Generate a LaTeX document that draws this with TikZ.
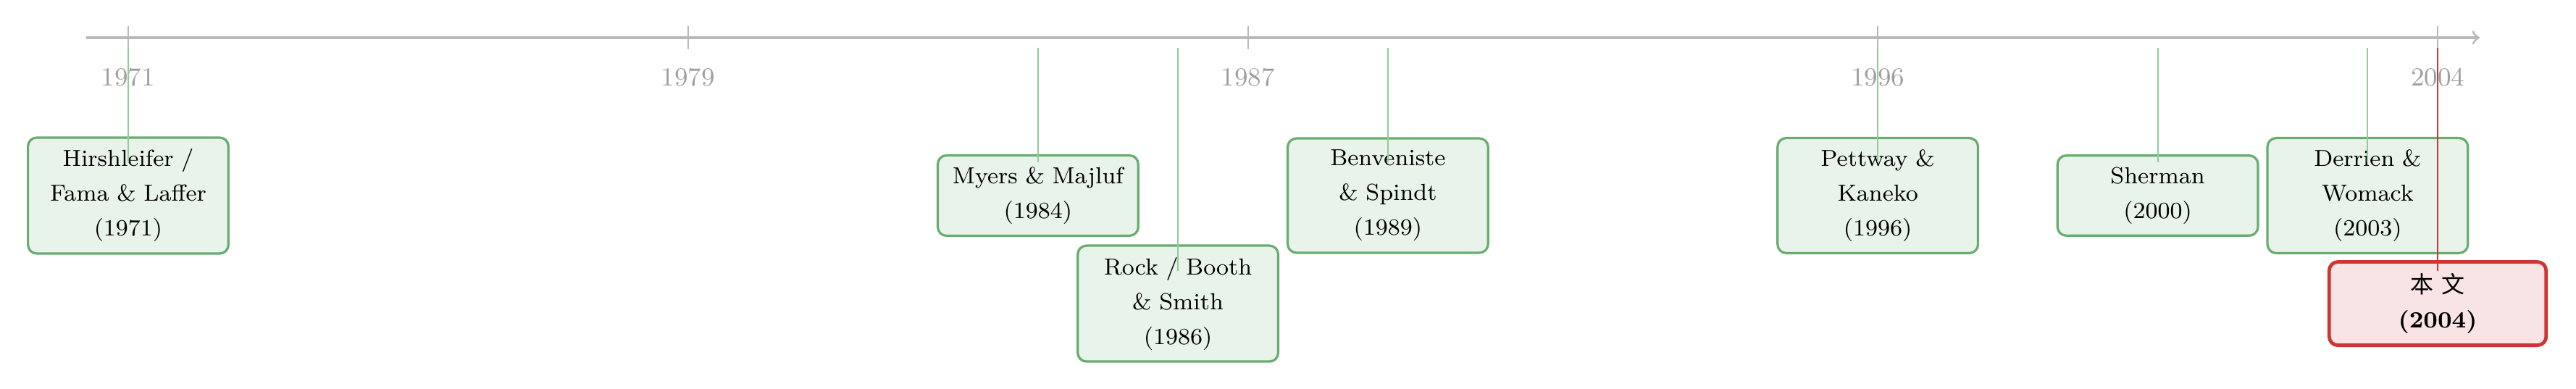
\documentclass[tikz,border=0pt]{standalone}
\usepackage{fontspec}
\newfontfamily\cjk{Noto Sans CJK SC}
\usetikzlibrary{positioning, calc}

\definecolor{axisgray}{RGB}{185,185,185}
\definecolor{labelgray}{RGB}{158,158,158}
\definecolor{paperline}{RGB}{104,172,112}
\definecolor{paperfill}{RGB}{232,243,234}
\definecolor{linkgreen}{RGB}{145,202,155}
\definecolor{oursline}{RGB}{208,52,52}
\definecolor{oursfill}{RGB}{249,228,229}

\begin{document}
\begin{tikzpicture}[x=0.8488cm]
    \tikzstyle{paper} = [draw=paperline, fill=paperfill, line width=0.8pt, rounded corners=3pt, text width=2.15cm, align=center, inner sep=4pt, font=\fontsize{8}{12}\selectfont]
    \tikzstyle{ours} = [paper, draw=oursline, fill=oursfill, line width=1.2pt, text width=2.35cm, font=\fontsize{8}{12}\selectfont\bfseries]
    \tikzstyle{yearlabel} = [text=labelgray, font=\small, anchor=base]
    \tikzstyle{link} = [draw=linkgreen, line width=0.5pt]

    \useasboundingbox (-1.832,-4.261) rectangle (34.977,0.457);

    % time axis (x = years after 1971)
    \draw[axisgray, line width=0.8pt, ->] (-0.6,0) -- (33.6,0);
    \foreach \off/\yr in {0/1971, 8/1979, 16/1987, 25/1996, 33/2004} {
        \draw[axisgray, line width=0.4pt] (\off,0.14) -- (\off,-0.14);
        \node[yearlabel] (y\yr) at (\off,-0.58) {\yr};
    }

    \node[paper] (hirsh) at (0,-1.915) {Hirshleifer /\\Fama \& Laffer\\(1971)};
    \node[paper] (myers) at (13,-1.915) {Myers \& Majluf\\(1984)};
    \node[paper] (rock) at (15,-3.225) {Rock / Booth\\\& Smith\\(1986)};
    \node[paper] (benv) at (18,-1.915) {Benveniste\\\& Spindt\\(1989)};
    \node[paper] (pettway) at (25,-1.915) {Pettway \&\\Kaneko\\(1996)};
    \node[paper] (sherman) at (29,-1.915) {Sherman\\(2000)};
    \node[paper] (derrien) at (32,-1.915) {Derrien \&\\Womack\\(2003)};
    \node[ours] (ours) at (33,-3.225) {{\cjk\mdseries 本 文}\\(2004)};

    \foreach \n/\off in {hirsh/0, myers/13, rock/15, benv/18, pettway/25, sherman/29, derrien/32} {
        \coordinate (\n-top) at (\off,-0.12);
        \draw[link] (\n-top) -- ([yshift=0.4cm]\n.center);
    }
    \coordinate (ours-top) at (33,-0.12);
    \draw[oursline, line width=0.5pt] (ours-top) -- ([yshift=0.4cm]ours.center);
\end{tikzpicture}
\end{document}
